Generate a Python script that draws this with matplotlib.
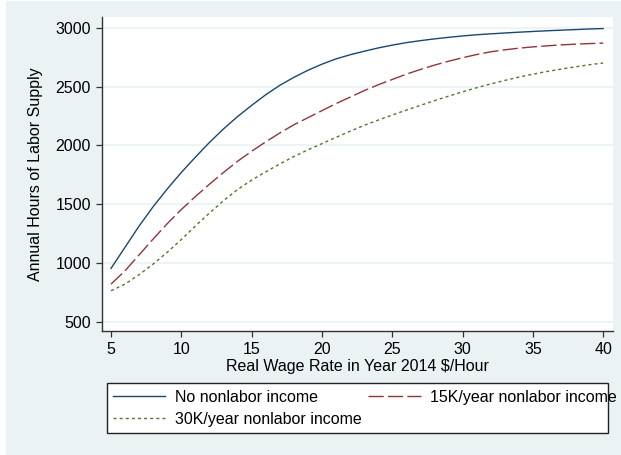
import matplotlib
matplotlib.use("Agg")
import matplotlib.pyplot as plt
from matplotlib.patches import Rectangle

plt.rcParams['font.family'] = ['Liberation Sans', 'DejaVu Sans']

# wage grid and labor supply curves for three levels of nonlabor income
wage = list(range(5, 41))
hours_none = [955, 1135, 1315, 1480, 1630, 1770, 1900, 2025, 2140, 2245,
              2340, 2430, 2510, 2578, 2638, 2690, 2735, 2770, 2800, 2828,
              2852, 2873, 2890, 2905, 2918, 2930, 2940, 2948, 2955, 2962,
              2968, 2974, 2979, 2984, 2989, 2993]
hours_15k = [821, 935, 1070, 1205, 1335, 1455, 1565, 1670, 1770, 1865,
             1950, 2030, 2105, 2175, 2235, 2295, 2355, 2410, 2465, 2515,
             2560, 2605, 2645, 2682, 2715, 2745, 2772, 2795, 2812, 2826,
             2837, 2846, 2854, 2860, 2865, 2869]
hours_30k = [765, 822, 902, 992, 1092, 1200, 1315, 1425, 1530, 1625,
             1705, 1775, 1842, 1905, 1962, 2015, 2068, 2120, 2170, 2215,
             2258, 2300, 2340, 2380, 2418, 2455, 2490, 2522, 2552, 2580,
             2605, 2628, 2648, 2667, 2685, 2700]
labels = ["No nonlabor income", "15K/year nonlabor income", "30K/year nonlabor income"]
xticks = [5, 10, 15, 20, 25, 30, 35, 40]
yticks = [500, 1000, 1500, 2000, 2500, 3000]

W, H = 621, 455
fs = 11.5
bg = "#eaf2f3"
fig = plt.figure(figsize=(W / 100, H / 100), dpi=100, facecolor="white")
fig.add_artist(Rectangle((6 / W, 0), 1 - 6 / W, 1 - 1 / H, transform=fig.transFigure,
                         facecolor=bg, edgecolor="none", zorder=0))

ax = fig.add_axes([102 / W, 1 - 331 / H, (613 - 102) / W, (331 - 17) / H])
ax.set_facecolor("white")

l1, = ax.plot(wage, hours_none, color="#1a476f", lw=1.0, label=labels[0])
l2, = ax.plot(wage, hours_15k, color="#90353b", lw=1.0, linestyle=(0, (11, 3)), label=labels[1])
l3, = ax.plot(wage, hours_30k, color="#55752f", lw=1.0, linestyle=(0, (2.2, 2.2)), label=labels[2])

ax.set_xlim(4.36, 40.7)
ax.set_ylim(423, 3091)
ax.set_xticks(xticks)
ax.set_yticks(yticks)
ax.set_yticklabels([str(v) for v in yticks])
for s in ["top", "right"]:
    ax.spines[s].set_visible(False)
for s in ["left", "bottom"]:
    ax.spines[s].set_color("#333333")
    ax.spines[s].set_linewidth(1.0)
ax.tick_params(axis="both", direction="out", length=4, width=0.9, color="#333333",
               labelsize=fs, pad=4)
ax.tick_params(axis="x", pad=4)
ax.grid(axis="y", color=bg, lw=1.2)
ax.set_axisbelow(True)

ax.set_xlabel("Real Wage Rate in Year 2014 $/Hour", fontsize=fs, labelpad=1)
ax.set_ylabel("Annual Hours of Labor Supply", fontsize=fs, labelpad=9)

# legend box drawn separately so the long entry can spill past its edge
fig.add_artist(Rectangle((107 / W, 1 - 433 / H), (608 - 107) / W, 50 / H,
                         transform=fig.transFigure, facecolor="white",
                         edgecolor="#222222", lw=1.0, zorder=1))
# column-major fill: first column holds entries 1 and 3
fig.legend(handles=[l1, l3, l2], labels=[labels[0], labels[2], labels[1]], ncol=2,
           frameon=False, loc="upper left", bbox_to_anchor=(107 / W, 1 - 384 / H),
           fontsize=fs, handlelength=3.3, handletextpad=0.6, columnspacing=0.4,
           borderpad=0.35, borderaxespad=0, labelspacing=0.45)

fig.savefig("out.png", dpi=100, facecolor=fig.get_facecolor())
